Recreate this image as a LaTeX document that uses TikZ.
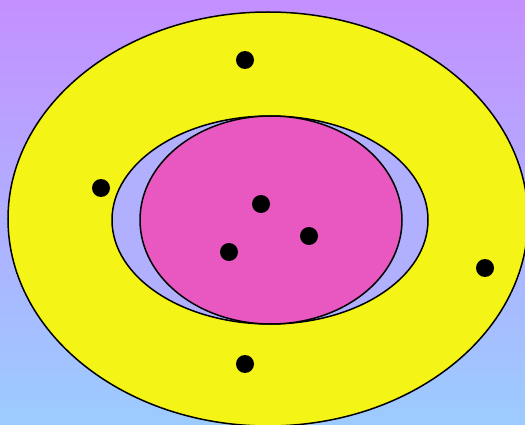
\documentclass[tikz,border=0pt]{standalone}
\definecolor{bgtop}{HTML}{C490FF}
\definecolor{bgbot}{HTML}{9CCCFF}
\definecolor{yel}{HTML}{F4F416}
\definecolor{lav}{HTML}{B0B0FF}
\definecolor{pnk}{HTML}{E858C0}
\begin{document}
\begin{tikzpicture}[x=1pt,y=-1pt,
  region/.style={draw=black,line width=1.5pt},
  dot/.style={circle,fill=black,inner sep=0pt,minimum size=18pt}]
\useasboundingbox (0,0) rectangle (525,425);
\shade[top color=bgtop,bottom color=bgbot] (0,0) rectangle (525,425);
\begin{scope}
\clip (0,0) rectangle (525,425);
\draw[region,fill=yel] (268,219) ellipse [x radius=260,y radius=207];
\draw[region,fill=lav] (270,220) ellipse [x radius=158,y radius=104];
\draw[region,fill=pnk] (271,220) ellipse [x radius=131,y radius=104];
\end{scope}
\node[dot] (d1) at (245,60) {};
\node[dot] (d2) at (101,188) {};
\node[dot] (d3) at (261,204) {};
\node[dot] (d4) at (309,236) {};
\node[dot] (d5) at (229,252) {};
\node[dot] (d6) at (485,268) {};
\node[dot] (d7) at (245,364) {};
\end{tikzpicture}
\end{document}
